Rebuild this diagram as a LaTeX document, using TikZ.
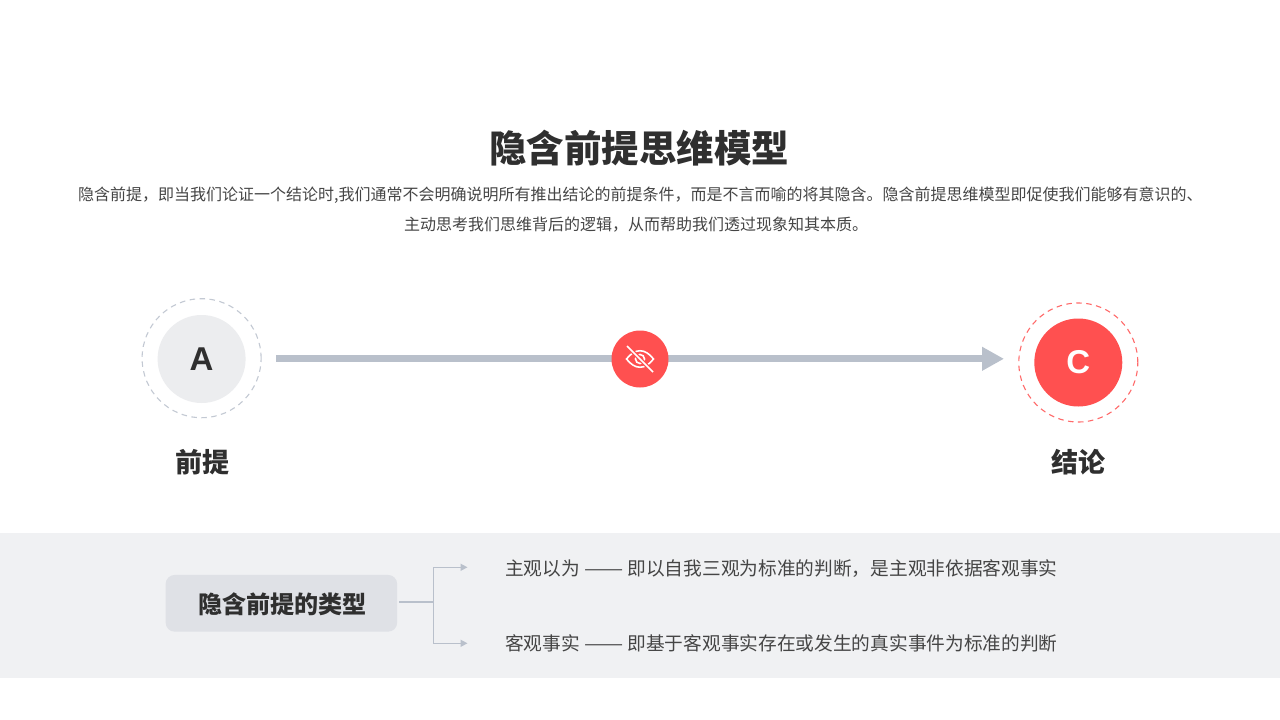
\documentclass[tikz,border=0pt]{standalone}
\usepackage{fontspec}
\setmainfont{Noto Sans CJK SC}
\newfontfamily\latinbold[BoldFont={Liberation Sans Bold}]{Liberation Sans}
\usepackage{xcolor}
\usetikzlibrary{arrows.meta}
\usetikzlibrary{positioning}
\definecolor{inkdark}{HTML}{2F2F2F}
\definecolor{inkbody}{HTML}{454545}
\definecolor{redfill}{HTML}{FF5050}
\definecolor{greyfill}{HTML}{ECEDEF}
\definecolor{steel}{HTML}{B9C0CB}
\definecolor{bandfill}{HTML}{F0F1F3}
\definecolor{boxfill}{HTML}{DFE1E6}
\newcommand{\longdash}{\scalebox{1.25}[1]{——}}
\tikzset{disc/.style={circle,inner sep=0pt,minimum size=88pt,font=\fontsize{33}{33}\selectfont\latinbold\bfseries}}
\tikzset{ring/.style={circle,dash pattern=on 5.5pt off 4.5pt,line width=1.1pt,inner sep=0pt,minimum size=119pt}}
\tikzset{caption/.style={font=\fontsize{27}{27}\selectfont\bfseries,text=inkdark,inner sep=0pt}}
\tikzset{bodyline/.style={font=\fontsize{16}{16}\selectfont,text=inkbody,inner sep=0pt}}
\tikzset{kind/.style={font=\fontsize{18.7}{19}\selectfont,text=inkbody,inner sep=0pt,anchor=west}}
\begin{document}
\begin{tikzpicture}[x=1pt,y=-1pt]
\tikzstyle{flow} = [draw=steel,line width=7pt]
\tikzstyle{branch} = [draw=steel,line width=1.5pt]
\useasboundingbox (0,0) rectangle (1280,720);
\fill[white] (0,0) rectangle (1280,720);
\fill[bandfill] (0,533) rectangle (1280,678);

\node[font=\fontsize{37.5}{38}\selectfont\bfseries,text=inkdark,inner sep=0pt] (title) at (639.3,148.4) {隐含前提思维模型};
\node[bodyline] (lineOne) at (640.3,195) {隐含前提，即当我们论证一个结论时,我们通常不会明确说明所有推出结论的前提条件，而是不言而喻的将其隐含。隐含前提思维模型即促使我们能够有意识的、};
\node[bodyline] (lineTwo) at (636,225) {主动思考我们思维背后的逻辑，从而帮助我们透过现象知其本质。};

\node[ring,draw=steel!85!white] (ringA) at (201.6,358.2) {};
\node[disc,fill=greyfill,text=inkdark] (discA) at (201.6,359) {A};
\node[caption] (premise) at (202,462) {前提};

\node[ring,draw=redfill!85!white] (ringC) at (1078.3,362.5) {};
\node[disc,fill=redfill,text=white] (discC) at (1078.3,362.5) {C};
\node[caption] (conclusion) at (1078,462) {结论};

% arrow runs behind the eye badge
\coordinate (flowStart) at (276,358.8);
\coordinate (flowEnd) at (1004,358.8);
\draw[flow,-{Triangle[length=22pt,width=22.5pt]}] (flowStart) -- (flowEnd);
\node[circle,fill=redfill,inner sep=0pt,minimum size=57pt] (badge) at (640,359) {};
\begin{scope}[shift={(badge.center)}]
\draw[white,line width=1.6pt] (-13.5,0) .. controls (-5,-11) and (5,-11) .. (13.5,0) .. controls (5,11) and (-5,11) .. cycle;
\draw[white,line width=1.6pt] (0,0) circle (4.5pt);
\draw[redfill,line width=4pt] (-13,-13) -- (13,13);
\draw[white,line width=1.6pt] (-13,-13) -- (13,13);
\end{scope}

\node[rectangle,rounded corners=9pt,fill=boxfill,text=inkdark,minimum width=231.5pt,minimum height=56.7pt,inner sep=0pt,font=\fontsize{24.1}{24}\selectfont\bfseries] (typeBox) at (281.4,603.3) {\hspace*{2pt}\raisebox{-1.3pt}[21.5pt][3.5pt]{隐含前提的类型}};
\node[kind] (kindOne) at (505,569) {主观以为 \longdash{} 即以自我三观为标准的判断，是主观非依据客观事实};
\node[kind] (kindTwo) at (505,643) {客观事实 \longdash{} 即基于客观事实存在或发生的真实事件为标准的判断};

\coordinate (fork) at (433.3,602);
\coordinate (tipOne) at (467.5,567.3);
\coordinate (tipTwo) at (467.5,643.3);
\draw[branch,shorten <=2pt] (typeBox.east |- fork) -- (fork);
\draw[branch,-{Triangle[length=7pt,width=7pt]}] (fork) |- (tipOne);
\draw[branch,-{Triangle[length=7pt,width=7pt]}] (fork) |- (tipTwo);
\end{tikzpicture}
\end{document}
